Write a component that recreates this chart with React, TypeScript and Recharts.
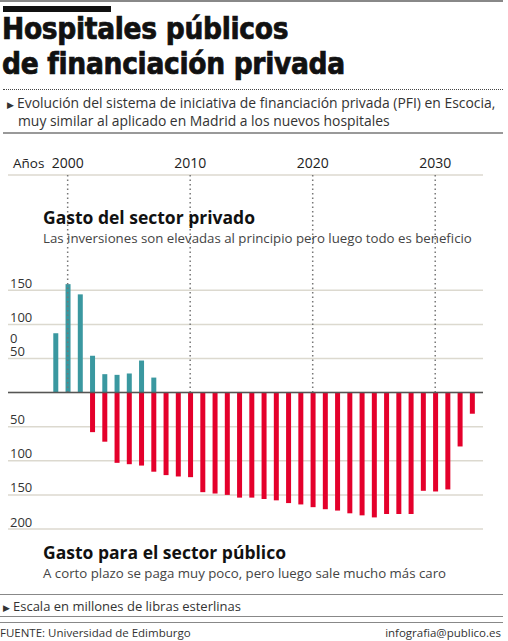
import React from 'react';
import { BarChart, Bar, XAxis, YAxis, CartesianGrid, ReferenceLine } from 'recharts';

const years = [
  1999, 2000, 2001, 2002, 2003, 2004, 2005, 2006, 2007, 2008, 2009, 2010,
  2011, 2012, 2013, 2014, 2015, 2016, 2017, 2018, 2019, 2020, 2021, 2022,
  2023, 2024, 2025, 2026, 2027, 2028, 2029, 2030, 2031, 2032, 2033,
];
// gasto del sector privado (millones de libras)
const privado = [87, 159, 144, 54, 27, 26, 28, 47, 22];
// gasto para el sector público, desde 2002
const publico = [
  58, 72, 103, 105, 107, 116, 121, 123, 124, 146, 148, 150, 154, 154, 156, 158,
  162, 164, 168, 171, 173, 177, 180, 183, 178, 178, 178, 144, 145, 142, 79, 31,
];
const publicoDesde = 2002;
const decadas = [2000, 2010, 2020, 2030];
const yTicks = [150, 100, 50, 0, -50, -100, -150, -200];

const data = years.map((year, i) => {
  const p = year - publicoDesde;
  return {
    year,
    privado: i < privado.length ? privado[i] : null,
    publico: p >= 0 ? -publico[p] : null,
  };
});

const TEAL = '#3a98a0';
const RED = '#e4002b';
const Y_MAX = 319;

const font = '"Open Sans", "Noto Sans", sans-serif';

const YTick = (props: any) => {
  const { x, y, payload } = props;
  const v = payload.value;
  if (v === 0) return null;
  const lines = v === 50 ? ['0', '50'] : [String(Math.abs(v))];
  return (
    <g>
      {lines.map((t, i) => (
        <text
          key={i}
          x={x}
          y={y - 7 - (lines.length - 1 - i) * 13}
          dy="0.35em"
          fontSize={13}
          fill="#333"
          fontFamily={font}
          textAnchor="start"
        >
          {t}
        </text>
      ))}
    </g>
  );
};

const abs = (x: number, y: number, extra: React.CSSProperties = {}): React.CSSProperties => ({
  position: 'absolute',
  left: x,
  top: y,
  whiteSpace: 'nowrap',
  ...extra,
});

export default function App() {
  return (
    <div
      style={{
        position: 'absolute',
        left: 0,
        top: 0,
        width: 508,
        height: 641,
        background: '#fff',
        fontFamily: font,
        color: '#333',
        overflow: 'hidden',
      }}
    >
      <div style={abs(0, 0, { width: 503, height: 1.5, background: '#888' })} />
      <div style={abs(3, 6, { width: 108, height: 6, background: '#111' })} />
      <div
        style={abs(2, 12, {
          fontFamily: '"DejaVu Sans Condensed", "DejaVu Sans", sans-serif',
          fontWeight: 'bold',
          fontSize: 29.5,
          lineHeight: '35px',
          color: '#111',
          letterSpacing: -0.3,
          WebkitTextStroke: '0.7px #111',
        })}
      >
        Hospitales públicos
        <br />
        de financiación privada
      </div>
      <div style={abs(3, 89, { width: 500, borderTop: '1.5px dotted #444' })} />
      <div style={abs(7, 95, { fontSize: 13.9, lineHeight: '15.5px', color: '#333' })}>
        <span style={{ fontSize: 9, marginRight: 3 }}>▶</span>Evolución del sistema de iniciativa de financiación privada (PFI) en Escocia,
        <br />
        <span style={{ marginLeft: 11 }}>muy similar al aplicado en Madrid a los nuevos hospitales</span>
      </div>
      <div style={abs(3, 132, { width: 500, height: 1.5, background: '#999' })} />

      <div style={{ position: 'absolute', left: 0, top: 0 }}>
        <BarChart
          width={508}
          height={641}
          data={data}
          stackOffset="sign"
          barSize={5}
          margin={{ top: 155, right: 25, bottom: 112, left: 8 }}
        >
          <CartesianGrid vertical={false} stroke="#dcd9cf" strokeWidth={1.5} />
          <XAxis
            dataKey="year"
            type="number"
            orientation="top"
            domain={[1995.13, 2033.9]}
            ticks={decadas}
            height={20}
            axisLine={false}
            tickLine={false}
            tickSize={0}
            tickMargin={7}
            tick={{ fontSize: 14, fill: '#222', fontFamily: font }}
          />
          <YAxis
            type="number"
            domain={[-200, Y_MAX]}
            ticks={yTicks}
            mirror
            width={1}
            axisLine={false}
            tickLine={false}
            tickSize={0}
            tickMargin={2}
            tick={YTick}
            interval={0}
          />
          {decadas.map((d) => (
            <ReferenceLine
              key={d}
              segment={[
                { x: d, y: Y_MAX },
                { x: d, y: 0 },
              ]}
              stroke="#777"
              strokeWidth={1.5}
              strokeDasharray="1.5 3"
            />
          ))}
          <Bar dataKey="privado" stackId="s" fill={TEAL} isAnimationActive={false} />
          <Bar dataKey="publico" stackId="s" fill={RED} isAnimationActive={false} />
          <ReferenceLine y={0} stroke="#555" strokeWidth={1.5} />
        </BarChart>
      </div>

      <div style={abs(13, 154, { fontSize: 13.5, color: '#222' })}>Años</div>

      <div style={abs(43, 205, { fontSize: 17.5, fontWeight: 'bold', color: '#111' })}>
        Gasto del sector privado
      </div>
      <div style={abs(43, 229, { fontSize: 13.25, color: '#444' })}>
        Las inversiones son elevadas al principio pero luego todo es beneficio
      </div>
      <div style={abs(43, 540, { fontSize: 17.5, fontWeight: 'bold', color: '#111' })}>
        Gasto para el sector público
      </div>
      <div style={abs(43, 564, { fontSize: 13.25, color: '#444' })}>
        A corto plazo se paga muy poco, pero luego sale mucho más caro
      </div>

      <div style={abs(0, 593.5, { width: 503, height: 1, background: '#888' })} />
      <div style={abs(3, 597, { fontSize: 13, color: '#333' })}>
        <span style={{ fontSize: 9, marginRight: 3 }}>▶</span>Escala en millones de libras esterlinas
      </div>
      <div style={abs(0, 616, { width: 503, height: 1, background: '#888' })} />
      <div style={abs(0, 622, { width: 503, height: 1, background: '#888' })} />
      <div style={abs(0, 625, { fontSize: 11.5, color: '#333' })}>FUENTE: Universidad de Edimburgo</div>
      <div style={abs(0, 625, { width: 501, textAlign: 'right', fontSize: 11.5, color: '#333' })}>
        infografia@publico.es
      </div>
    </div>
  );
}
